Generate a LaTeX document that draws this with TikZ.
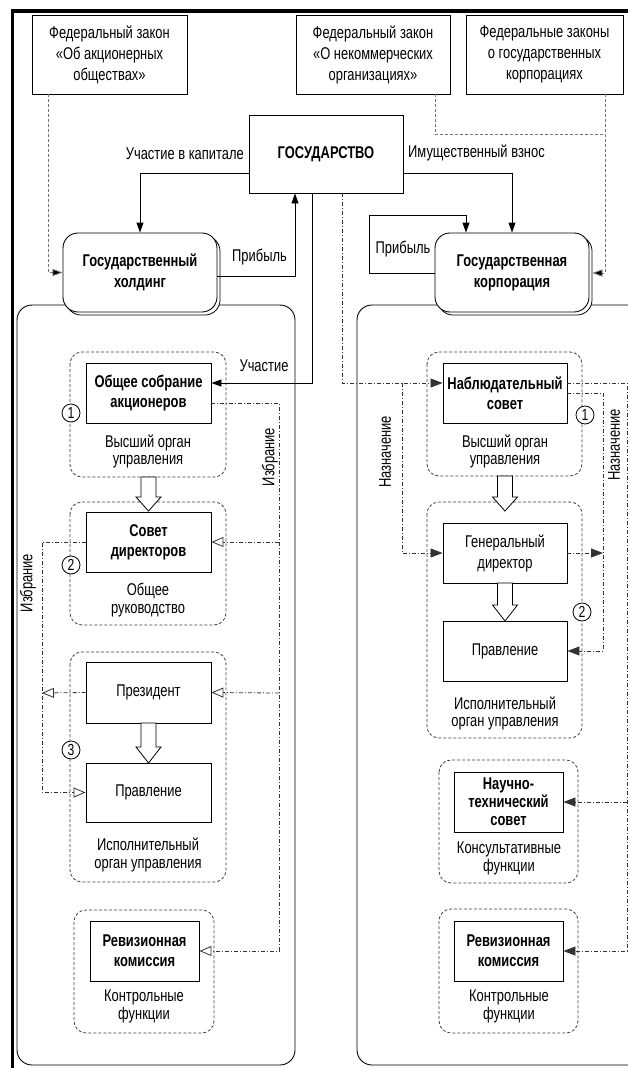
\documentclass[tikz,border=0pt]{standalone}
\usepackage{fontspec}
\setmainfont{Liberation Sans}[FakeStretch=0.76]
\usetikzlibrary{arrows.meta,calc}
\newcommand{\myblockarrow}[4]{%
  \draw[line width=0.8pt, fill=white] (#1-7.5,#2) -- (#1+7.5,#2) -- (#1+7.5,#3) -- (#1+12.5,#3) -- (#1,#4) -- (#1-12.5,#3) -- (#1-7.5,#3) -- cycle;}
\begin{document}
\begin{tikzpicture}[x=1pt,y=-1pt,
  every node/.style={font=\fontsize{17}{21}\selectfont, inner sep=0pt},
  box/.style={draw, line width=0.9pt, fill=white, align=center},
  bbox/.style={box, font=\fontsize{17}{20}\selectfont\bfseries},
  rbox/.style={draw, line width=0.9pt, fill=white, align=center, rounded corners=15pt, font=\fontsize{17}{21}\selectfont\bfseries},
  shadowbox/.style={draw, line width=0.8pt, fill=white, rounded corners=15pt},
  grp/.style={draw=black!75, dash pattern=on 3pt off 2pt, line width=0.8pt, rounded corners=12pt},
  desc/.style={align=center, font=\fontsize{17}{17.5}\selectfont},
  circ/.style={draw, circle, fill=white, minimum size=18pt, inner sep=0pt, line width=0.8pt, font=\fontsize{16}{16}\selectfont},
  solid arr/.style={line width=0.9pt, -{Triangle[length=10pt,width=7pt]}},
  law/.style={draw=black!55, line width=0.8pt, dash pattern=on 3pt off 2pt},
  lawarr/.style={law, -{Triangle[length=10pt,width=7pt,fill=black]}},
  link/.style={draw=black!80, line width=0.8pt, dash pattern=on 4pt off 2pt on 1pt off 2pt},
  openarr/.style={link, -{Triangle[open,length=12pt,width=10pt]}},
  fullarr/.style={link, -{Triangle[length=12pt,width=9pt]}}
]
\useasboundingbox (0,0) rectangle (628,1068);
\fill[white] (0,0) rectangle (628,1068);
% frame
\draw[line width=3.6pt] (12.5,1070) -- (12.5,10.7) -- (630,10.7);

% containers
\draw[line width=0.9pt, rounded corners=15pt] (17,305) rectangle (295,1065);
\draw[line width=0.9pt, rounded corners=15pt] (640,305) -- (357,305) -- (357,1065) -- (640,1065);

% law boxes
\node[box, minimum width=155pt, minimum height=79pt] (A) at (109.5,54.5) {Федеральный закон\\«Об акционерных\\обществах»};
\node[box, minimum width=154pt, minimum height=79pt] (B) at (373,54.5) {Федеральный закон\\«О некоммерческих\\организациях»};
\node[box, minimum width=157pt, minimum height=79pt] (C) at (544.5,54.5) {Федеральные законы\\о государственных\\корпорациях};

% state
\node[bbox, minimum width=154pt, minimum height=78pt] (state) at (326,154) {ГОСУДАРСТВО};

% holding and corporation
\node[shadowbox, minimum width=154pt, minimum height=79pt] (hsh) at (143,275.5) {};
\node[rbox, minimum width=154pt, minimum height=79pt] (holding) at (140,272.5) {Государственный\\холдинг};
\node[shadowbox, minimum width=154pt, minimum height=79pt] (csh) at (515,275.5) {};
\node[rbox, minimum width=154pt, minimum height=79pt] (corp) at (512,272.5) {Государственная\\корпорация};

% groups left
\draw[grp] (70,352) rectangle (226,477);
\draw[grp] (70,502) rectangle (226,625);
\draw[grp] (70,652) rectangle (226,882);
\draw[grp] (74,910) rectangle (214,1033);
% groups right
\draw[grp] (427,352) rectangle (582,476);
\draw[grp] (427,502) rectangle (582,738);
\draw[grp] (439,760) rectangle (578,883);
\draw[grp] (439,909) rectangle (578,1033);

% boxes left
\node[bbox, minimum width=125pt, minimum height=60pt] (gsa) at (148.5,393) {Общее собрание\\акционеров};
\node[bbox, minimum width=125pt, minimum height=60pt] (sd) at (148.5,542) {Совет\\директоров};
\node[box, minimum width=125pt, minimum height=61pt] (pres) at (148.5,692.5) {Президент};
\node[box, minimum width=125pt, minimum height=59pt] (prav) at (148.5,792.5) {Правление};
\node[bbox, minimum width=109pt, minimum height=60pt] (revL) at (144.5,951) {Ревизионная\\комиссия};
% boxes right
\node[bbox, minimum width=124pt, minimum height=60pt] (ns) at (505,393) {Наблюдательный\\совет};
\node[box, minimum width=124pt, minimum height=60pt] (gd) at (505,553) {Генеральный\\директор};
\node[box, minimum width=124pt, minimum height=60pt] (pravR) at (505,651) {Правление};
\node[bbox, minimum width=109pt, minimum height=60pt, font=\fontsize{17}{18}\selectfont\bfseries] (nts) at (508.5,802) {Научно-\\технический\\совет};
\node[bbox, minimum width=109pt, minimum height=60pt] (revR) at (508.5,951) {Ревизионная\\комиссия};

% top connectors
\draw[solid arr] (state.west |- 0,173) -| (holding.north);
\draw[solid arr] (holding.east |- 0,276) -| (state.south -| 295,0);
\draw[solid arr] (state.east |- 0,173) -| (corp.north);
\coordinate (lp1) at (369,273);
\coordinate (lp2) at (369,215);
\draw[solid arr] (corp.west |- 0,273) -- (lp1) -- (lp2) -| (corp.north -| 466,0);
\draw[solid arr] (state.south -| 312,0) |- (gsa.east |- 0,383);

% law connectors
\draw[lawarr] (A.south -| 48,0) |- (holding.west);
\coordinate (jn) at (605,134);
\draw[law] (B.south -| 435,0) |- (jn);
\draw[lawarr] (C.south -| 605,0) |- ([xshift=3pt]corp.east |- 0,273);

% descriptions
\node[desc] (d1) at (148,451.5) {Высший орган\\управления};
\node[desc] (d2) at (148,600) {Общее\\руководство};
\node[desc] (d3) at (148,855) {Исполнительный\\орган управления};
\node[desc] (d4) at (144,1006.5) {Контрольные\\функции};
\node[desc] (d5) at (505,451.5) {Высший орган\\управления};
\node[desc] (d6) at (505,713.5) {Исполнительный\\орган управления};
\node[desc] (d7) at (509,858.5) {Консультативные\\функции};
\node[desc] (d8) at (509,1006.5) {Контрольные\\функции};

% block arrows
\myblockarrow{148.5}{477}{497}{511}
\myblockarrow{148.5}{723}{747}{763}
\myblockarrow{505}{476}{497}{511}
\myblockarrow{505}{583}{605}{621}

% circles
\node[circ] (c1) at (71,413) {1};
\node[circ] (c2) at (71,565) {2};
\node[circ] (c3) at (71,750) {3};
\node[circ] (c4) at (585,415) {1};
\node[circ] (c5) at (582,612) {2};

% left election links
\coordinate (e1) at (279,403);
\coordinate (e2) at (279,542);
\coordinate (e3) at (279,693);
\draw[openarr] (gsa.east |- 0,403) -- (e1) |- (revL.east);
\draw[openarr] (e2) -- (sd.east);
\draw[openarr] (e3) -- (pres.east);
\coordinate (f1) at (42,542);
\coordinate (f2) at (42,693);
\draw[openarr] (sd.west) -- (f1) |- (prav.west);
\draw[openarr] (pres.west) -- (f2);

% right appointment links
\coordinate (g1) at (342,383);
\coordinate (g2) at (402,383);
\draw[fullarr] (state.south -| 342,0) -- (g1) -- (ns.west |- 0,383);
\draw[fullarr] (g2) |- (gd.west);
\coordinate (h1) at (627,383);
\coordinate (h2) at (627,802);
\draw[fullarr] (ns.east |- 0,383) -- (h1) |- (revR.east);
\draw[fullarr] (h2) -- (nts.east);
\coordinate (k1) at (603,393);
\coordinate (k2) at (603,553);
\draw[fullarr] (ns.east) -- (k1) |- (pravR.east);
\draw[fullarr] (gd.east) -- (k2);

% labels
\node[anchor=east] (l1) at (244,154) {Участие в капитале};
\node[anchor=west] (l2) at (408,153) {Имущественный взнос};
\node (l3) at (259.5,257) {Прибыль};
\node (l4) at (403,249) {Прибыль};
\node (l5) at (264,366) {Участие};
\node[rotate=90] (l6) at (270,457) {Избрание};
\node[rotate=90] (l7) at (28,583) {Избрание};
\node[rotate=90] (l8) at (385,452) {Назначение};
\node[rotate=90] (l9) at (614,445) {Назначение};
\end{tikzpicture}
\end{document}
